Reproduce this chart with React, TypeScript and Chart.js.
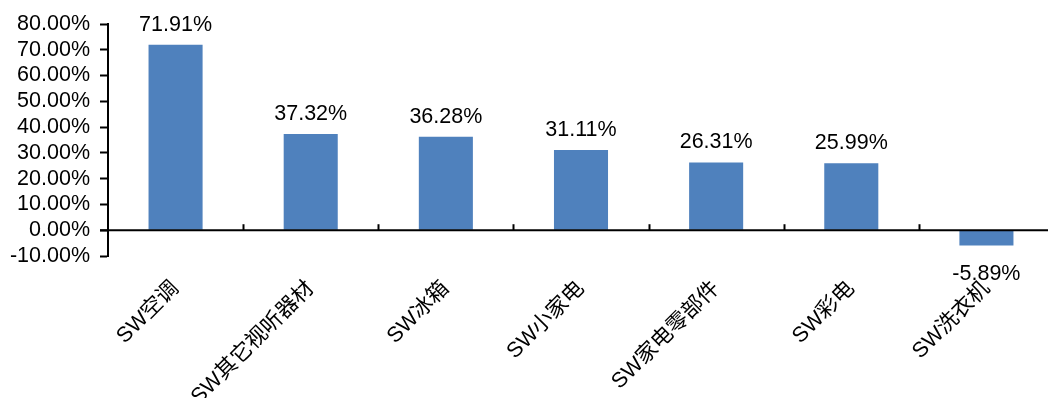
import React, { useEffect, useRef } from "react";
import { Chart, registerables } from "chart.js";

Chart.register(...registerables);

// Industry sub-sectors and their returns (%)
const categories: string[] = [
  "SW空调",
  "SW其它视听器材",
  "SW冰箱",
  "SW小家电",
  "SW家电零部件",
  "SW彩电",
  "SW洗衣机",
];
const returns: number[] = [71.91, 37.32, 36.28, 31.11, 26.31, 25.99, -5.89];

const yMin = -10;
const yMax = 80;
const yStep = 10;

const FONT_FAMILY = "'Liberation Sans', Arial, 'Noto Sans CJK SC', sans-serif";
const FONT_SIZE = 21.5;
const BAR_COLOR = "#4F81BD";

// Zero baseline with short upward tick marks at category boundaries
const zeroAxisPlugin = {
  id: "zeroAxis",
  afterDatasetsDraw(chart: any) {
    const { ctx, scales, chartArea } = chart;
    const x = scales.x;
    const y = scales.y;
    const y0 = y.getPixelForValue(0);
    ctx.save();
    ctx.strokeStyle = "#000";
    ctx.lineWidth = 2;
    ctx.beginPath();
    ctx.moveTo(chartArea.left - 8, y0);
    ctx.lineTo(chartArea.right, y0);
    ctx.stroke();
    const n = categories.length;
    for (let i = 1; i <= n; i++) {
      const bx =
        i < n
          ? (x.getPixelForValue(i - 1) + x.getPixelForValue(i)) / 2
          : chartArea.right;
      const px = Math.round(bx) + 0.5;
      ctx.beginPath();
      ctx.moveTo(px, y0);
      ctx.lineTo(px, y0 - 6);
      ctx.stroke();
    }
    ctx.restore();
  },
};

// Value labels above positive bars and below negative bars
const valueLabelPlugin = {
  id: "valueLabels",
  afterDatasetsDraw(chart: any) {
    const { ctx } = chart;
    const meta = chart.getDatasetMeta(0);
    ctx.save();
    ctx.font = `${FONT_SIZE}px ${FONT_FAMILY}`;
    ctx.fillStyle = "#000";
    ctx.textAlign = "center";
    ctx.textBaseline = "alphabetic";
    meta.data.forEach((el: any, i: number) => {
      const v = returns[i];
      const text = v.toFixed(2) + "%";
      const ty = v >= 0 ? el.y - 14 : el.y + 35;
      ctx.fillText(text, el.x, ty);
    });
    ctx.restore();
  },
};

export default function App() {
  const canvasRef = useRef<HTMLCanvasElement | null>(null);

  useEffect(() => {
    if (!canvasRef.current) return;
    const chart = new Chart(canvasRef.current, {
      type: "bar",
      data: {
        labels: categories,
        datasets: [
          {
            data: returns,
            backgroundColor: BAR_COLOR,
            borderWidth: 0,
            categoryPercentage: 1,
            barPercentage: 0.4,
          },
        ],
      },
      options: {
        animation: false,
        responsive: false,
        maintainAspectRatio: false,
        layout: { padding: { left: 0, right: 6, top: 24, bottom: 0 } },
        plugins: {
          legend: { display: false },
          tooltip: { enabled: false },
        },
        scales: {
          x: {
            grid: { display: false, drawTicks: false },
            border: { display: false },
            ticks: {
              autoSkip: false,
              minRotation: 45,
              maxRotation: 45,
              padding: 20,
              color: "#000",
              font: { family: FONT_FAMILY, size: FONT_SIZE },
            },
            afterFit(scale: any) {
              scale.height = 142;
            },
          },
          y: {
            min: yMin,
            max: yMax,
            grid: {
              display: true,
              drawOnChartArea: false,
              drawTicks: true,
              tickLength: 8,
              tickWidth: 2,
              color: "#000",
            },
            border: { display: true, color: "#000", width: 2 },
            ticks: {
              stepSize: yStep,
              autoSkip: false,
              padding: 10,
              color: "#000",
              font: { family: FONT_FAMILY, size: FONT_SIZE },
              callback: (v: any) => Number(v).toFixed(2) + "%",
            },
            afterFit(scale: any) {
              scale.width = 108;
            },
          },
        },
      },
      plugins: [zeroAxisPlugin, valueLabelPlugin],
    });
    return () => chart.destroy();
  }, []);

  return (
    <div
      style={{
        position: "fixed",
        left: 0,
        top: 0,
        width: 1048,
        height: 398,
        overflow: "hidden",
        background: "#fff",
      }}
    >
      <canvas
        ref={canvasRef}
        width={1060}
        height={398}
        style={{ width: 1060, height: 398, display: "block" }}
      />
    </div>
  );
}
